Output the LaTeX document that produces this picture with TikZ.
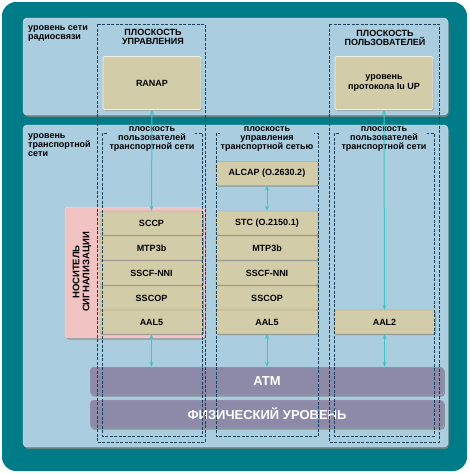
\documentclass[tikz,border=0pt]{standalone}
\usepackage{fontspec}
\setmainfont{Liberation Sans}
\usetikzlibrary{arrows.meta,shadows}

\definecolor{teal0}{HTML}{007C89}
\definecolor{panel}{HTML}{AACDE0}
\definecolor{tan0}{HTML}{D3CCA8}
\definecolor{pink0}{HTML}{F2C3C3}
\definecolor{atm0}{HTML}{8D89A9}
\definecolor{dash0}{HTML}{17435C}
\definecolor{cyan0}{HTML}{3CC6C6}

\tikzset{
  panelbox/.style={fill=panel, draw=white!60!panel, rounded corners=4pt,
    drop shadow={shadow xshift=1pt, shadow yshift=-2pt, opacity=0.8}},
  layer/.style={draw=tan0!75!black, fill=tan0, rounded corners=1.5pt,
    minimum height=24pt, inner sep=0pt, font=\bfseries\fontsize{9}{10}\selectfont,
    drop shadow={shadow xshift=0.8pt, shadow yshift=-1.2pt, opacity=0.7}},
  bigbox/.style={layer, minimum width=98pt, minimum height=53pt, align=center,
    draw=white!70!tan0, line width=0.8pt},
  bar/.style={fill=atm0, draw=white!40!atm0, rounded corners=3pt,
    minimum width=354pt, minimum height=28pt,
    text=white, font=\bfseries\fontsize{13}{15}\selectfont,
    drop shadow={shadow xshift=0.8pt, shadow yshift=-1.5pt, opacity=0.8}},
  frame/.style={draw=dash0, dash pattern=on 3pt off 1.5pt, line width=0.9pt},
  title/.style={align=center, font=\bfseries\fontsize{9}{9.5}\selectfont},
  sublabel/.style={align=center, fill=panel, inner sep=0.5pt,
    font=\bfseries\fontsize{9}{9}\selectfont},
  sidelabel/.style={align=left, anchor=north west, inner sep=0pt,
    font=\bfseries\fontsize{9}{9}\selectfont},
  link/.style={cyan0, line width=1pt, {Stealth[length=5pt,width=4pt]}-{Stealth[length=5pt,width=4pt]}}
}

\begin{document}
\begin{tikzpicture}[x=1pt, y=-1pt]
	\useasboundingbox (0,0) rectangle (470,474);
	\fill[teal0, rounded corners=14pt] (2,2) rectangle (467,471);

	% panels
	\path[panelbox] (23,18) rectangle (448,115);
	\path[panelbox] (23,125) rectangle (448,447);
	\node[sidelabel] (radio) at (28,25) {уровень сети\\радиосвязи};
	\node[sidelabel] (trans) at (28,133) {уровень\\транспортной\\сети};

	% signalling bearer
	\path[fill=pink0, draw=white!50!pink0, rounded corners=3pt,
	  drop shadow={shadow xshift=0.8pt, shadow yshift=-1.5pt, opacity=0.7}]
	  (65,207) rectangle (205,338);
	\node[rotate=90, align=center, font=\bfseries\fontsize{9.5}{10}\selectfont] (sig) at (82,272)
	  {НОСИТЕЛЬ\\СИГНАЛИЗАЦИИ};

	% upper boxes
	\node[bigbox] (ranap) at (152,83) {RANAP};
	\node[bigbox] (iuup) at (384,83) {уровень\\протокола Iu UP};

	% left stack
	\node[layer, minimum width=103pt] (sccp) at (151.5,223) {SCCP};
	\node[layer, minimum width=103pt] (mtpl) at (151.5,248) {MTP3b};
	\node[layer, minimum width=103pt] (sscfl) at (151.5,273) {SSCF-NNI};
	\node[layer, minimum width=103pt] (sscopl) at (151.5,298) {SSCOP};
	\node[layer, minimum width=103pt] (aall) at (151.5,322) {AAL5};

	% middle stack
	\node[layer, minimum width=102pt] (alcap) at (267,173.5) {ALCAP (O.2630.2)};
	\node[layer, minimum width=102pt] (stc) at (267,223) {STC (O.2150.1)};
	\node[layer, minimum width=102pt] (mtpm) at (267,248) {MTP3b};
	\node[layer, minimum width=102pt] (sscfm) at (267,273) {SSCF-NNI};
	\node[layer, minimum width=102pt] (sscopm) at (267,298) {SSCOP};
	\node[layer, minimum width=102pt] (aalm) at (267,322) {AAL5};

	% right stack
	\node[layer, minimum width=101pt] (aalr) at (384.5,322) {AAL2};

	% common layers
	\node[bar] (atm) at (267,381) {ATM};
	\node[bar] (phy) at (267,414) {ФИЗИЧЕСКИЙ УРОВЕНЬ};

	% plane frames
	\draw[frame] (97,24) rectangle (205,442);
	\draw[frame] (102,133) rectangle (202,436);
	\draw[frame] (216,133) rectangle (318,436);
	\draw[frame] (329,24) rectangle (439,442);
	\draw[frame] (334,133) rectangle (434,436);

	\node[title] (cplane) at (153,37) {ПЛОСКОСТЬ\\УПРАВЛЕНИЯ};
	\node[title] (uplane) at (385,38) {ПЛОСКОСТЬ\\ПОЛЬЗОВАТЕЛЕЙ};
	\node[sublabel] (tul) at (152,139) {плоскость\\пользователей\\транспортной сети};
	\node[sublabel] (tcm) at (267,139) {плоскость\\управления\\транспортной сетью};
	\node[sublabel] (tur) at (384,139) {плоскость\\пользователей\\транспортной сети};

	% links
	\begin{scope}[every path/.style={link}]
		\draw (ranap.south) -- (sccp.north);
		\draw (iuup.south) -- (aalr.north);
		\draw (alcap.south) -- (stc.north);
		\draw (aall.south) -- (aall.south |- atm.north);
		\draw (aalm.south) -- (aalm.south |- atm.north);
		\draw (aalr.south) -- (aalr.south |- atm.north);
	\end{scope}
\end{tikzpicture}
\end{document}
